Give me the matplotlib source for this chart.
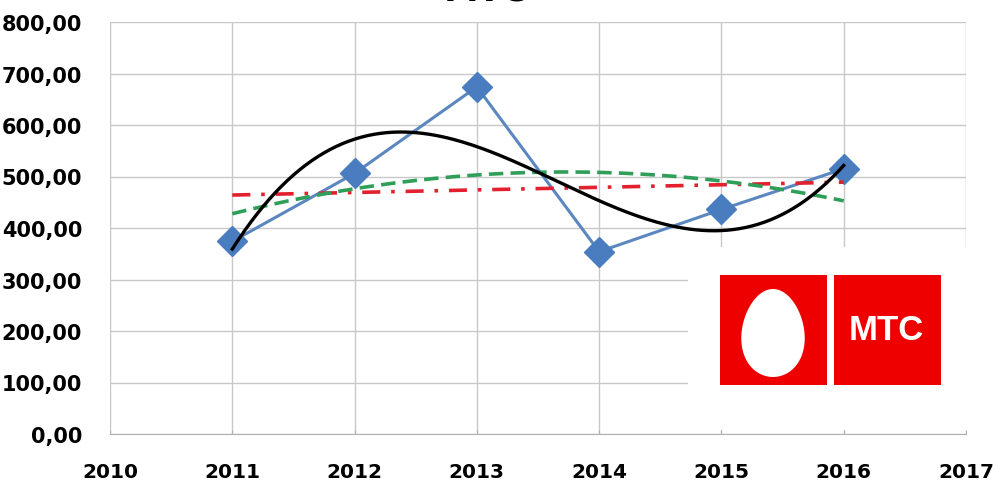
import numpy as np
from matplotlib import pyplot as plt
from matplotlib.patches import Rectangle, Polygon
from matplotlib.ticker import FuncFormatter

years = [2011, 2012, 2013, 2014, 2015, 2016]
values = [374, 506, 674, 354, 436, 515]
title = "МТС"


def comma_fmt(v, pos):
    return f"{v:.2f}".replace(".", ",")


fig = plt.figure(figsize=(9.96, 4.85), dpi=100)
ax = fig.add_axes([110 / 996, 1 - 435 / 485, 856 / 996, 412 / 485])

x = np.array(years, dtype=float)
xs = x - 2010
xx = np.linspace(x[0], x[-1], 200)

# trend lines like in Excel: linear, poly 2, poly 3
lin = np.polyval(np.polyfit(xs, values, 1), xx - 2010)
quad = np.polyval(np.polyfit(xs, values, 2), xx - 2010)
cub = np.polyval(np.polyfit(xs, values, 3), xx - 2010)

ax.plot(x, values, color="#5B87C0", lw=2.2, marker="D", markersize=15,
        markerfacecolor="#4A7DC0", markeredgecolor="#4A7DC0", zorder=3)
ax.plot(xx, lin, color="#E2202E", lw=2.6, dashes=(5, 3, 1, 3), zorder=4)
ax.plot(xx, quad, color="#2E9E58", lw=2.6, dashes=(4, 2), zorder=4)
ax.plot(xx, cub, color="black", lw=2.4, zorder=5)

ax.set_xlim(2010, 2017)
ax.set_ylim(0, 800)
ax.set_xticks(range(2010, 2018))
ax.set_yticks(range(0, 801, 100))
ax.yaxis.set_major_formatter(FuncFormatter(comma_fmt))
ax.grid(True, color="#c8c8c8", lw=1)
ax.set_axisbelow(True)
ax.tick_params(axis="y", length=0, pad=20)
ax.tick_params(axis="x", length=3, direction="in", color="#b0b0b0", pad=20)
for lab in ax.get_yticklabels():
    lab.set_fontsize(15)
    lab.set_fontweight("bold")
for lab in ax.get_xticklabels():
    lab.set_fontsize(14.5)
    lab.set_fontweight("bold")
for side in ["top", "right", "left"]:
    ax.spines[side].set_visible(False)
ax.spines["bottom"].set_color("#b0b0b0")

fig.text(486 / 996, 1.02, title, ha="center", va="center",
         fontsize=25, fontweight="bold")

# logo over the chart
W, H = 996, 485


def fx(px):
    return px / W


def fy(py):
    return 1 - py / H


fig.patches.append(Rectangle((fx(688), fy(431)), fx(980) - fx(688), fy(248) - fy(431),
                             transform=fig.transFigure, facecolor="white",
                             edgecolor="none", zorder=10))
fig.patches.append(Rectangle((fx(720), fy(386)), fx(827) - fx(720), fy(276) - fy(386),
                             transform=fig.transFigure, facecolor="#EE0000",
                             edgecolor="none", zorder=11))
fig.patches.append(Rectangle((fx(834), fy(386)), fx(941) - fx(834), fy(276) - fy(386),
                             transform=fig.transFigure, facecolor="#EE0000",
                             edgecolor="none", zorder=11))
t = np.linspace(0, 2 * np.pi, 120)
ex = 773 + 31.5 * np.cos(t) * (1 - 0.12 * np.sin(t))
ey = 334 - 44 * np.sin(t)
fig.patches.append(Polygon(np.column_stack([fx(ex), fy(ey)]), closed=True,
                           transform=fig.transFigure, facecolor="white",
                           edgecolor="none", zorder=12))
fig.text(fx(886), fy(331), "МТС", ha="center", va="center", color="white",
         fontsize=25, fontweight="bold", family="Liberation Sans", zorder=12)

fig.savefig("out.png", dpi=100)
